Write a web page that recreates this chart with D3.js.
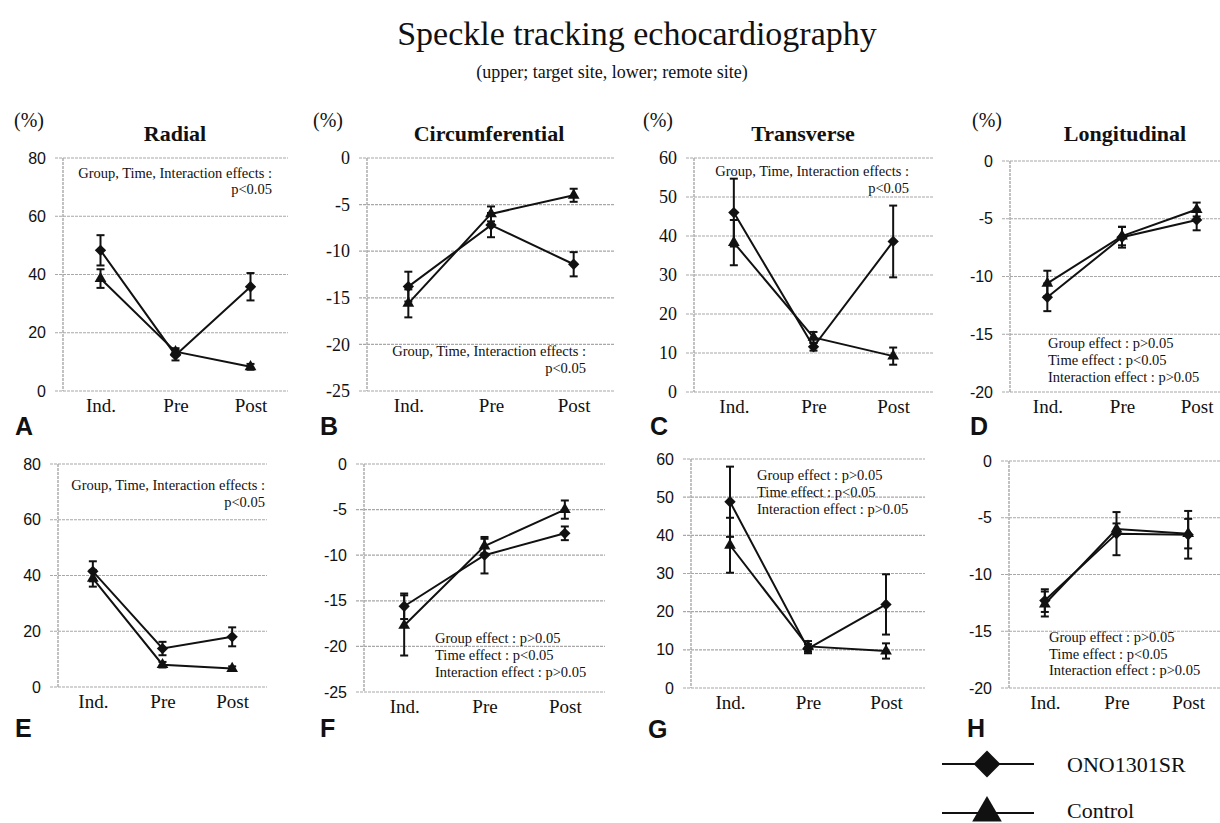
<!DOCTYPE html>
<html>
<head>
<meta charset="utf-8">
<script src="https://cdn.jsdelivr.net/npm/d3@7"></script>
<style>
  html, body { margin: 0; padding: 0; background: #fff; }
  svg { display: block; }
</style>
</head>
<body>
<svg id="chart" width="1220" height="823"></svg>
<script>
// ---------------- DATA ----------------
const categories = ["Ind.", "Pre", "Post"];
const panelTitles = ["Radial", "Circumferential", "Transverse", "Longitudinal"];
const panelLetters = ["A", "B", "C", "D", "E", "F", "G", "H"];
const seriesNames = ["ONO1301SR", "Control"];

const ticksRadial = [0, 20, 40, 60, 80];
const ticksCirc = [0, -5, -10, -15, -20, -25];
const ticksTrans = [0, 10, 20, 30, 40, 50, 60];
const ticksLong = [0, -5, -10, -15, -20];

// Upper row: target site
const radialTargetOno = [48.3, 12.3, 35.8];
const radialTargetOnoErr = [5.2, 1.8, 4.7];
const radialTargetCtrl = [38.6, 13.5, 8.3];
const radialTargetCtrlErr = [3.2, 1.2, 1.0];

const circTargetOno = [-13.8, -7.2, -11.4];
const circTargetOnoErr = [1.6, 1.3, 1.3];
const circTargetCtrl = [-15.6, -6.0, -4.0];
const circTargetCtrlErr = [1.5, 0.8, 0.7];

const transTargetOno = [46.0, 11.6, 38.6];
const transTargetOnoErr = [8.7, 1.0, 9.2];
const transTargetCtrl = [38.3, 14.0, 9.2];
const transTargetCtrlErr = [5.8, 1.4, 2.2];

const longTargetOno = [-11.8, -6.6, -5.1];
const longTargetOnoErr = [1.2, 0.9, 0.9];
const longTargetCtrl = [-10.6, -6.5, -4.2];
const longTargetCtrlErr = [1.1, 0.8, 0.6];

// Lower row: remote site
const radialRemoteOno = [41.5, 13.8, 18.0];
const radialRemoteOnoErr = [3.6, 2.4, 3.4];
const radialRemoteCtrl = [39.0, 8.0, 6.6];
const radialRemoteCtrlErr = [3.0, 1.0, 0.8];

const circRemoteOno = [-15.6, -10.0, -7.6];
const circRemoteOnoErr = [1.4, 2.0, 0.75];
const circRemoteCtrl = [-17.7, -9.0, -5.0];
const circRemoteCtrlErr = [3.3, 0.8, 1.0];

const transRemoteOno = [48.8, 10.3, 21.9];
const transRemoteOnoErr = [9.2, 1.2, 7.9];
const transRemoteCtrl = [37.4, 10.9, 9.7];
const transRemoteCtrlErr = [7.2, 1.4, 2.0];

const longRemoteOno = [-12.3, -6.4, -6.5];
const longRemoteOnoErr = [1.0, 1.9, 2.1];
const longRemoteCtrl = [-12.6, -6.0, -6.4];
const longRemoteCtrlErr = [1.1, 0.5, 1.3];

const annotAll = ["Group, Time, Interaction effects :", "p<0.05"];
const annotSplit = ["Group effect : p>0.05", "Time effect : p<0.05", "Interaction effect : p>0.05"];

const titleText = "Speckle tracking echocardiography";
const subtitleText = "(upper; target site, lower; remote site)";
const unitText = "(%)";

// ---------------- LAYOUT ----------------
const SERIF = "'Liberation Serif', 'Times New Roman', serif";
const SANS = "'Liberation Sans', Arial, sans-serif";

const panels = [
  {letter:0, ticks:ticksRadial, dom:[0,80], ono:radialTargetOno, onoE:radialTargetOnoErr, ctrl:radialTargetCtrl, ctrlE:radialTargetCtrlErr,
   l:63, r:288, t:158, b:391, yFont:SANS, ySize:16, title:0, titleX:175, unitX:14, lx:15, ly:435,
   annot:annotAll, aAnchor:"end", ax:272, ay:[178,194]},
  {letter:1, ticks:ticksCirc, dom:[-25,0], ono:circTargetOno, onoE:circTargetOnoErr, ctrl:circTargetCtrl, ctrlE:circTargetCtrlErr,
   l:367, r:615, t:158, b:391, yFont:SERIF, ySize:18, title:1, titleX:489, unitX:313, lx:320, ly:435,
   annot:annotAll, aAnchor:"end", ax:586, ay:[356,373]},
  {letter:2, ticks:ticksTrans, dom:[0,60], ono:transTargetOno, onoE:transTargetOnoErr, ctrl:transTargetCtrl, ctrlE:transTargetCtrlErr,
   l:694, r:933, t:158, b:392, yFont:SERIF, ySize:18, title:2, titleX:803, unitX:643, lx:650, ly:435,
   annot:annotAll, aAnchor:"end", ax:909, ay:[176,193]},
  {letter:3, ticks:ticksLong, dom:[-20,0], ono:longTargetOno, onoE:longTargetOnoErr, ctrl:longTargetCtrl, ctrlE:longTargetCtrlErr,
   l:1010, r:1234, t:161, b:392, yFont:SANS, ySize:16, title:3, titleX:1125, unitX:972, lx:970, ly:435,
   annot:annotSplit, aAnchor:"start", ax:1048, ay:[348,365,382]},
  {letter:4, ticks:ticksRadial, dom:[0,80], ono:radialRemoteOno, onoE:radialRemoteOnoErr, ctrl:radialRemoteCtrl, ctrlE:radialRemoteCtrlErr,
   l:58, r:267, t:464, b:687, yFont:SANS, ySize:16, lx:15, ly:737,
   annot:annotAll, aAnchor:"end", ax:265, ay:[490,507]},
  {letter:5, ticks:ticksCirc, dom:[-25,0], ono:circRemoteOno, onoE:circRemoteOnoErr, ctrl:circRemoteCtrl, ctrlE:circRemoteCtrlErr,
   l:364, r:605, t:464, b:692, yFont:SANS, ySize:16, lx:320, ly:737,
   annot:annotSplit, aAnchor:"start", ax:435, ay:[643,660,677]},
  {letter:6, ticks:ticksTrans, dom:[0,60], ono:transRemoteOno, onoE:transRemoteOnoErr, ctrl:transRemoteCtrl, ctrlE:transRemoteCtrlErr,
   l:691, r:925, t:459, b:688, yFont:SANS, ySize:16, lx:648, ly:738,
   annot:annotSplit, aAnchor:"start", ax:757, ay:[480,497,514]},
  {letter:7, ticks:ticksLong, dom:[-20,0], ono:longRemoteOno, onoE:longRemoteOnoErr, ctrl:longRemoteCtrl, ctrlE:longRemoteCtrlErr,
   l:1009, r:1224, t:461, b:688, yFont:SANS, ySize:16, lx:967, ly:737,
   annot:annotSplit, aAnchor:"start", ax:1049, ay:[642,659,675]}
];

const svg = d3.select("#chart");

// Title
svg.append("text").attr("x", 637).attr("y", 45).attr("text-anchor", "middle")
  .style("font-family", SERIF).style("font-size", "34px").attr("fill", "#111").text(titleText);
svg.append("text").attr("x", 612).attr("y", 78).attr("text-anchor", "middle")
  .style("font-family", SERIF).style("font-size", "18px").attr("fill", "#111").text(subtitleText);

const diamond = d3.symbol().type(d3.symbolSquare);
const triangle = d3.symbol().type(d3.symbolTriangle);
const GRID = "#a8a8a8";

panels.forEach(p => {
  const g = svg.append("g");
  const x = d3.scalePoint().domain(categories).range([p.l, p.r]).padding(0.5);
  const y = d3.scaleLinear().domain(p.dom).range([p.b, p.t]);

  // gridlines
  g.selectAll(".grid").data(p.ticks).join("line")
    .attr("x1", p.l - 8).attr("x2", p.r)
    .attr("y1", d => y(d)).attr("y2", d => y(d))
    .attr("stroke", GRID).attr("stroke-width", 1.2).attr("stroke-dasharray", "3,1");
  // y axis line
  g.append("line").attr("x1", p.l).attr("x2", p.l).attr("y1", y(p.dom[1])).attr("y2", y(p.dom[0]))
    .attr("stroke", GRID).attr("stroke-width", 1.4).attr("stroke-dasharray", "3,1");

  // y axis labels
  const ya = g.append("g").attr("transform", `translate(${p.l},0)`)
    .call(d3.axisLeft(y).tickValues(p.ticks).tickSize(0).tickPadding(17).tickFormat(d3.format("d")));
  ya.select(".domain").remove();
  ya.selectAll("text").style("font-family", p.yFont).style("font-size", p.ySize + "px").attr("fill", "#111")
    .text(d => String(d).replace("−", "-"));

  // x axis labels
  const xa = g.append("g").attr("transform", `translate(0,${p.b})`)
    .call(d3.axisBottom(x).tickSize(0).tickPadding(8));
  xa.select(".domain").remove();
  xa.selectAll("text").style("font-family", SERIF).style("font-size", "19px").attr("fill", "#111");

  // series
  const series = [
    {vals:p.ono, err:p.onoE, sym:"diamond"},
    {vals:p.ctrl, err:p.ctrlE, sym:"triangle"}
  ];
  const line = d3.line().x((d, i) => x(categories[i])).y(d => y(d));
  series.forEach(s => {
    g.append("path").datum(s.vals).attr("d", line)
      .attr("fill", "none").attr("stroke", "#111").attr("stroke-width", 2);
  });
  series.forEach(s => {
    const eb = g.append("g");
    s.vals.forEach((v, i) => {
      const cx = x(categories[i]);
      const y1 = y(v + s.err[i]), y2 = y(v - s.err[i]);
      eb.append("line").attr("x1", cx).attr("x2", cx).attr("y1", y1).attr("y2", y2)
        .attr("stroke", "#111").attr("stroke-width", 2);
      [y1, y2].forEach(yy => eb.append("line").attr("x1", cx - 4).attr("x2", cx + 4)
        .attr("y1", yy).attr("y2", yy).attr("stroke", "#111").attr("stroke-width", 2));
    });
  });
  series.forEach(s => {
    g.selectAll(null).data(s.vals).join("path")
      .attr("transform", (d, i) => s.sym === "diamond"
        ? `translate(${x(categories[i])},${y(d)}) rotate(45)`
        : `translate(${x(categories[i])},${y(d)})`)
      .attr("d", s.sym === "diamond" ? diamond.size(64)() : triangle.size(60)())
      .attr("fill", "#111");
  });

  // annotation
  const at = g.append("g");
  p.annot.forEach((t, i) => {
    at.append("text").attr("x", p.ax).attr("y", p.ay[i]).attr("text-anchor", p.aAnchor)
      .style("font-family", SERIF).style("font-size", "14.5px").attr("fill", "#111").text(t);
  });

  // titles & unit (top row only)
  if (p.title !== undefined) {
    g.append("text").attr("x", p.titleX).attr("y", 141).attr("text-anchor", "middle")
      .style("font-family", SERIF).style("font-size", "22px").style("font-weight", "bold")
      .attr("fill", "#111").text(panelTitles[p.title]);
    g.append("text").attr("x", p.unitX).attr("y", 127)
      .style("font-family", SERIF).style("font-size", "20px").attr("fill", "#111").text(unitText);
  }

  // panel letter
  g.append("text").attr("x", p.lx).attr("y", p.ly)
    .style("font-family", SANS).style("font-size", "25px").style("font-weight", "bold")
    .attr("fill", "#111").text(panelLetters[p.letter]);
});

// Legend
const leg = svg.append("g");
const legY = [764, 813];
const legTextY = [772, 818];
seriesNames.forEach((name, i) => {
  leg.append("line").attr("x1", 942).attr("x2", 1034).attr("y1", legY[i]).attr("y2", legY[i])
    .attr("stroke", "#111").attr("stroke-width", 1.8);
  leg.append("path")
    .attr("transform", i === 0 ? `translate(987,${legY[i]}) rotate(45)` : `translate(987,${legY[i]})`)
    .attr("d", i === 0 ? diamond.size(360)() : triangle.size(380)())
    .attr("fill", "#111");
  leg.append("text").attr("x", 1067).attr("y", legTextY[i])
    .style("font-family", SERIF).style("font-size", "22px").attr("fill", "#111").text(name);
});
</script>
</body>
</html>
